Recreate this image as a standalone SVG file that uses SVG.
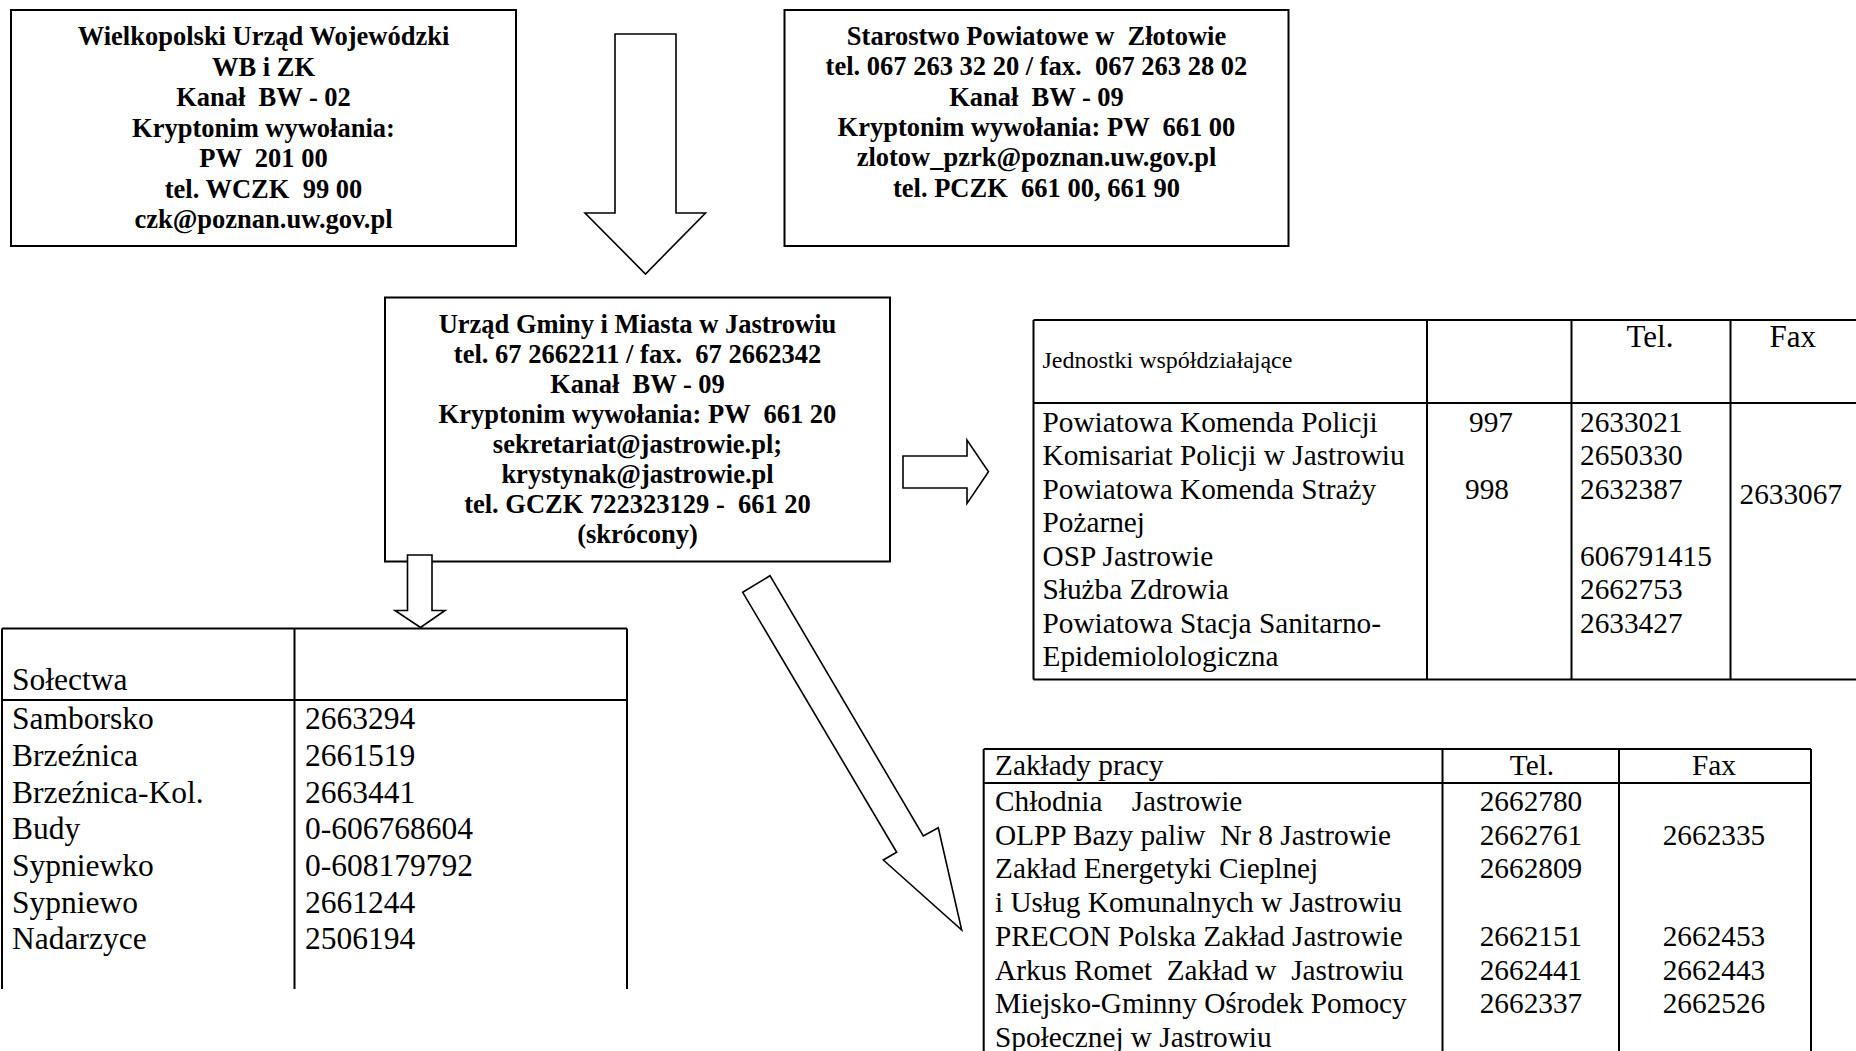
<svg xmlns="http://www.w3.org/2000/svg" width="1856" height="1051" viewBox="0 0 1856 1051">
<style>
.box{fill:#fff;stroke:#000;stroke-width:2}
.arr{fill:#fff;stroke:#000;stroke-width:1.6;stroke-linejoin:miter}
.ln{stroke:#000;stroke-width:2;fill:none}
text{font-family:"Liberation Serif","Times New Roman",serif;fill:#000;white-space:pre}
.b{font-weight:bold;font-size:26.5px;text-anchor:middle}
.t{font-size:29.3px}
.s{font-size:31.5px}
.c{text-anchor:middle}
</style>
<rect width="1856" height="1051" fill="#fff"/>
<g id="wuw">
<rect class="box" x="11" y="10" width="505" height="236"/>
<text class="b" x="263.5" y="45">Wielkopolski Urząd Wojewódzki</text>
<text class="b" x="263.5" y="75.5">WB i ZK</text>
<text class="b" x="263.5" y="106">Kanał  BW - 02</text>
<text class="b" x="263.5" y="136.5">Kryptonim wywołania:</text>
<text class="b" x="263.5" y="167">PW  201 00</text>
<text class="b" x="263.5" y="197.5">tel. WCZK  99 00</text>
<text class="b" x="263.5" y="228">czk@poznan.uw.gov.pl</text>
</g>
<g id="starostwo">
<rect class="box" x="784.5" y="10" width="504" height="236"/>
<text class="b" x="1036.5" y="45">Starostwo Powiatowe w  Złotowie</text>
<text class="b" x="1036.5" y="75.3">tel. 067 263 32 20 / fax.  067 263 28 02</text>
<text class="b" x="1036.5" y="105.6">Kanał  BW - 09</text>
<text class="b" x="1036.5" y="135.9">Kryptonim wywołania: PW  661 00</text>
<text class="b" x="1036.5" y="166.2">zlotow_pzrk@poznan.uw.gov.pl</text>
<text class="b" x="1036.5" y="196.5">tel. PCZK  661 00, 661 90</text>
</g>
<g id="urzad">
<rect class="box" x="385" y="297.5" width="505" height="264"/>
<text class="b" x="637.5" y="333.3">Urząd Gminy i Miasta w Jastrowiu</text>
<text class="b" x="637.5" y="363.3">tel. 67 2662211 / fax.  67 2662342</text>
<text class="b" x="637.5" y="393.3">Kanał  BW - 09</text>
<text class="b" x="637.5" y="423.3">Kryptonim wywołania: PW  661 20</text>
<text class="b" x="637.5" y="453.3">sekretariat@jastrowie.pl;</text>
<text class="b" x="637.5" y="483.3">krystynak@jastrowie.pl</text>
<text class="b" x="637.5" y="513.3">tel. GCZK 722323129 -  661 20</text>
<text class="b" x="637.5" y="543.3">(skrócony)</text>
</g>
<g id="connectors">
<polygon class="arr" points="615,34 676,34 676,213 705.5,213 645.5,274 585,213 615,213"/>
<polygon class="arr" points="903,456 967,456 967,440 988.5,471.7 967,503.5 967,488 903,488"/>
<polygon class="arr" points="407.5,555 432,555 432,610.5 445,610.5 420.5,627.5 395,610.5 407.5,610.5"/>
<polygon class="arr" points="742.7,592.3 770,575.7 923.3,836 938.3,827.7 961.7,930 883.3,860 896.7,852.3"/>
</g>
<g id="solectwa">
<path class="ln" d="M2,628.5H627M2,700H627M2,628.5V989M294.5,628.5V989M627,628.5V989"/>
<text class="s" x="12" y="690">Sołectwa</text>
<text class="s" x="12" y="729.3">Samborsko</text>
<text class="s" x="12" y="766">Brzeźnica</text>
<text class="s" x="12" y="802.7">Brzeźnica-Kol.</text>
<text class="s" x="12" y="839.3">Budy</text>
<text class="s" x="12" y="876">Sypniewko</text>
<text class="s" x="12" y="912.7">Sypniewo</text>
<text class="s" x="12" y="949.3">Nadarzyce</text>
<text class="s" x="305" y="729.3">2663294</text>
<text class="s" x="305" y="766">2661519</text>
<text class="s" x="305" y="802.7">2663441</text>
<text class="s" x="305" y="839.3">0-606768604</text>
<text class="s" x="305" y="876">0-608179792</text>
<text class="s" x="305" y="912.7">2661244</text>
<text class="s" x="305" y="949.3">2506194</text>
</g>
<g id="jednostki">
<path class="ln" d="M1033.5,320H1858M1033.5,403H1858M1033.5,679.4H1858M1033.5,320V679.4M1427,320V679.4M1571.5,320V679.4M1730.5,320V679.4"/>
<text x="1042.5" y="368.3" style="font-size:24px">Jednostki współdziałające</text>
<text x="1626.5" y="346.7" style="font-size:31px">Tel.</text>
<text x="1769.5" y="346.7" style="font-size:31px">Fax</text>
<text class="t" x="1042.5" y="431.7">Powiatowa Komenda Policji</text>
<text class="t" x="1042.5" y="465.2">Komisariat Policji w Jastrowiu</text>
<text class="t" x="1042.5" y="498.7">Powiatowa Komenda Straży</text>
<text class="t" x="1042.5" y="532.2">Pożarnej</text>
<text class="t" x="1042.5" y="565.7">OSP Jastrowie</text>
<text class="t" x="1042.5" y="599.2">Służba Zdrowia</text>
<text class="t" x="1042.5" y="632.7">Powiatowa Stacja Sanitarno-</text>
<text class="t" x="1042.5" y="666.2">Epidemiolologiczna</text>
<text class="t" x="1469" y="431.7">997</text>
<text class="t" x="1465" y="498.7">998</text>
<text class="t" x="1580" y="431.7">2633021</text>
<text class="t" x="1580" y="465.2">2650330</text>
<text class="t" x="1580" y="498.7">2632387</text>
<text class="t" x="1580" y="565.7">606791415</text>
<text class="t" x="1580" y="599.2">2662753</text>
<text class="t" x="1580" y="632.7">2633427</text>
<text class="t" x="1739.5" y="504">2633067</text>
</g>
<g id="zaklady">
<path class="ln" d="M983.7,749H1811M983.7,783H1811M983.7,749V1055M1442.5,749V1055M1619,749V1055M1811,749V1055"/>
<text class="t" x="995" y="775">Zakłady pracy</text>
<text class="t c" x="1532" y="775">Tel.</text>
<text class="t c" x="1714" y="775">Fax</text>
<text class="t" x="995" y="811">Chłodnia    Jastrowie</text>
<text class="t" x="995" y="844.7">OLPP Bazy paliw  Nr 8 Jastrowie</text>
<text class="t" x="995" y="878.4">Zakład Energetyki Cieplnej</text>
<text class="t" x="995" y="912">i Usług Komunalnych w Jastrowiu</text>
<text class="t" x="995" y="945.8">PRECON Polska Zakład Jastrowie</text>
<text class="t" x="995" y="979.5">Arkus Romet  Zakład w  Jastrowiu</text>
<text class="t" x="995" y="1013.2">Miejsko-Gminny Ośrodek Pomocy</text>
<text class="t" x="995" y="1047">Społecznej w Jastrowiu</text>
<text class="t c" x="1531" y="811">2662780</text>
<text class="t c" x="1531" y="844.7">2662761</text>
<text class="t c" x="1531" y="878.4">2662809</text>
<text class="t c" x="1531" y="945.8">2662151</text>
<text class="t c" x="1531" y="979.5">2662441</text>
<text class="t c" x="1531" y="1013.2">2662337</text>
<text class="t c" x="1714" y="844.7">2662335</text>
<text class="t c" x="1714" y="945.8">2662453</text>
<text class="t c" x="1714" y="979.5">2662443</text>
<text class="t c" x="1714" y="1013.2">2662526</text>
</g>
</svg>
